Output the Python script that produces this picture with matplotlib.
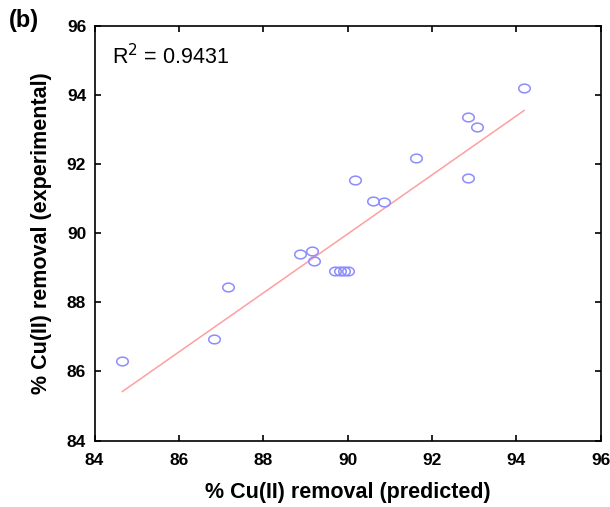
import numpy as np
import matplotlib.pyplot as plt
from matplotlib.path import Path

plt.rcParams['font.family'] = ['Liberation Sans', 'DejaVu Sans']

# predicted vs experimental % Cu(II) removal
predicted = [84.66, 86.84, 87.16, 88.86, 89.15, 89.21, 89.71, 89.81, 89.91, 90.01,
             90.18, 90.61, 90.87, 91.61, 92.86, 92.86, 93.07, 94.18]
experimental = [86.31, 86.93, 88.43, 89.40, 89.49, 89.19, 88.92, 88.92, 88.92, 88.92,
                91.54, 90.94, 90.89, 92.17, 93.36, 91.61, 93.08, 94.20]

# fitted line end points
fit_x = [84.66, 94.18]
fit_y = [85.42, 93.55]

ticks = [84, 86, 88, 90, 92, 94, 96]

# slightly flattened circle marker (as in the original image)
t = np.linspace(0, 2 * np.pi, 60)
ellipse = Path(np.column_stack([1.33 * np.cos(t), np.sin(t)]))

fig = plt.figure(figsize=(6.1, 5.07), dpi=100)
ax = fig.add_axes([0.155, 0.131, 0.83, 0.818])

ax.plot(fit_x, fit_y, color='#ff9f9f', lw=1.1, zorder=2)
ax.plot(predicted, experimental, ls='none', marker=ellipse, ms=8.3,
        mfc='none', mec='#8c8cff', mew=1.1, zorder=3)

ax.set_xlim(84, 96)
ax.set_ylim(84, 96)
ax.set_xticks(ticks)
ax.set_yticks(ticks)
ax.tick_params(direction='in', length=4, width=1.2, top=True, right=True,
               labelsize=12.5)
ax.tick_params(axis='x', pad=9)
ax.tick_params(axis='y', pad=6)
for lab in ax.get_xticklabels() + ax.get_yticklabels():
    lab.set_fontweight('bold')
for s in ax.spines.values():
    s.set_linewidth(1.2)

ax.set_xlabel('% Cu(II) removal (predicted)', fontsize=15.5, fontweight='bold', labelpad=10)
ax.set_ylabel('% Cu(II) removal (experimental)', fontsize=15.5, fontweight='bold', labelpad=11)

ax.text(0.035, 0.925, r'R$^2$ = 0.9431', transform=ax.transAxes, fontsize=15.5,
        va='center', ha='left')
fig.text(0.015, 0.96, '(b)', fontsize=17, fontweight='bold', va='center', ha='left')

fig.savefig('out.png', dpi=100)
